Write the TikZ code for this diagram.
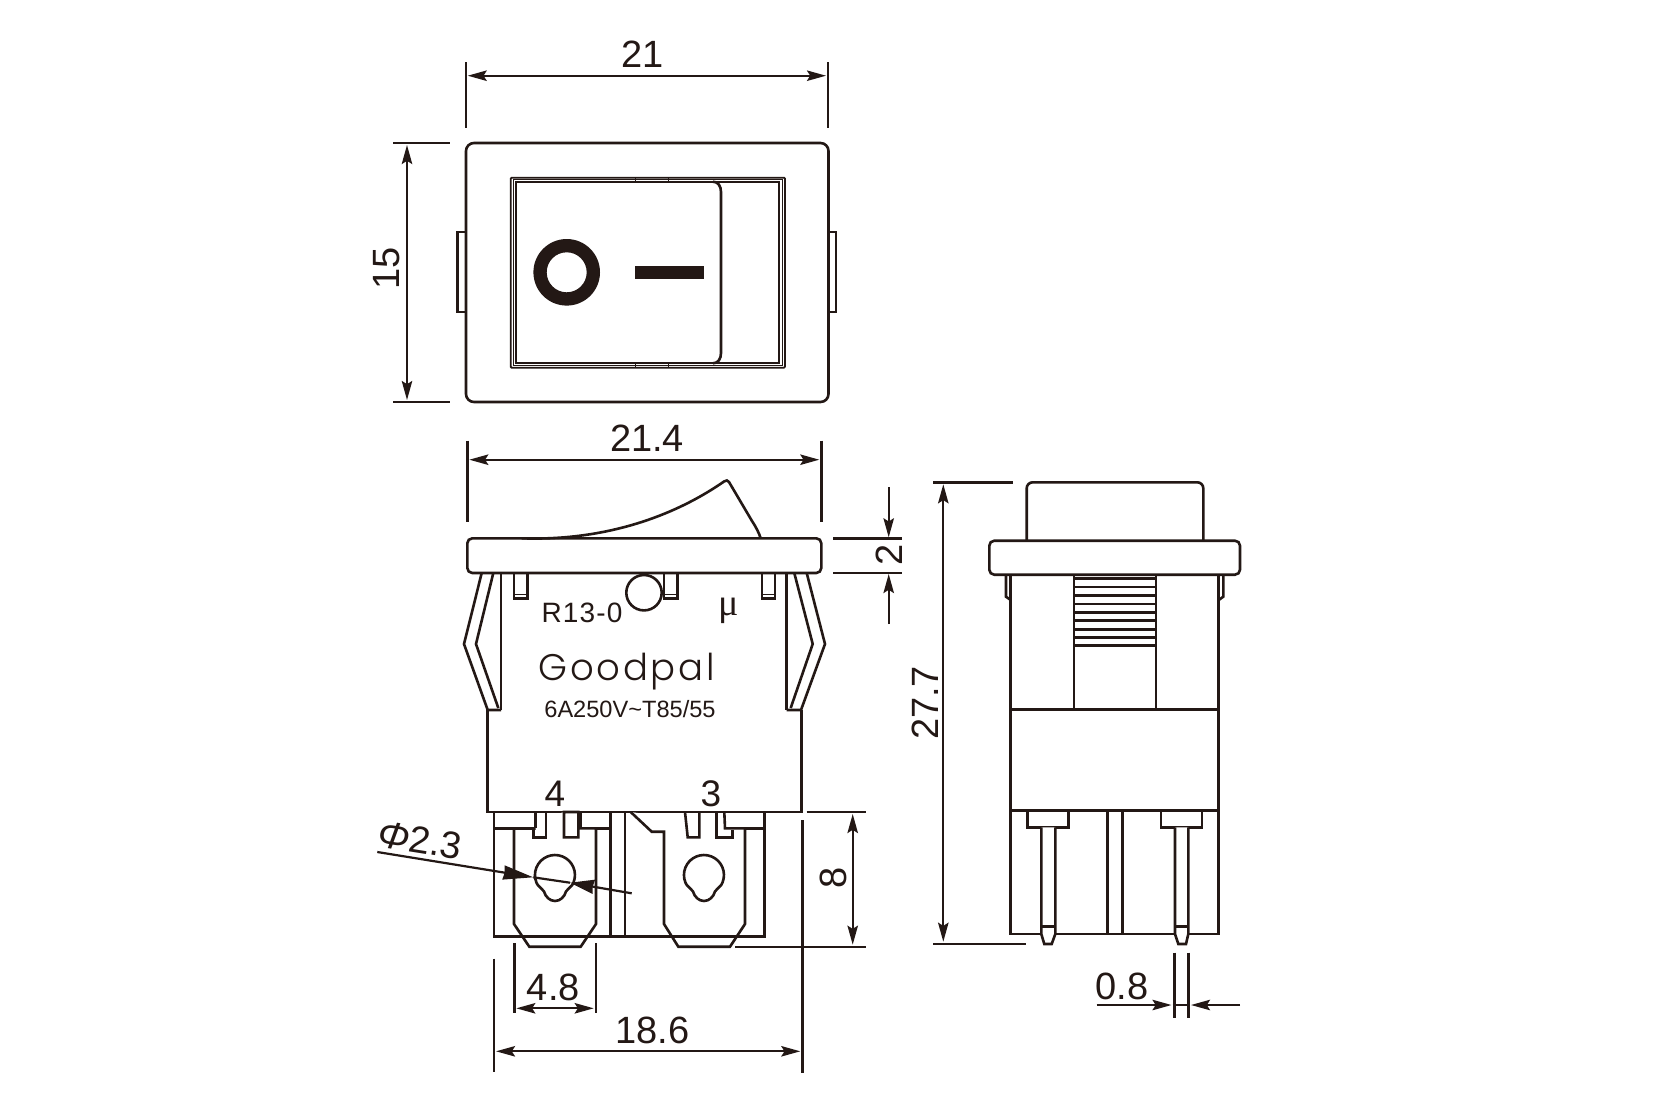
\documentclass[tikz,border=0pt]{standalone}
\usepackage{fontspec}
\setmainfont{Liberation Sans}
\newfontfamily\serfont{Liberation Serif}
\newfontfamily\gpfont[LetterSpace=7.5]{Poppins Light}
\newfontfamily\spfont[LetterSpace=4]{Liberation Sans}
\usetikzlibrary{arrows.meta}
\definecolor{ink}{HTML}{231815}
\tikzset{
  part/.style={draw=ink,line width=1.3pt,line join=miter},
  whitepart/.style={part,fill=white},
  thinpart/.style={draw=ink,line width=0.9pt},
  hairpart/.style={draw=ink,line width=0.35pt},
  ext/.style={draw=ink,line width=1.2pt},
  dimtip/.tip={Stealth[length=9.5pt,width=5.2pt,inset=1.6pt]},
  dimarr/.style={draw=ink,line width=1.1pt,{dimtip}-{dimtip},shorten <=1pt,shorten >=1pt},
  onearr/.style={draw=ink,line width=1.1pt,-{dimtip},shorten >=0.5pt},
  bigtip/.tip={Stealth[length=15pt,width=7pt,inset=0.5pt]},
  midtip/.tip={Stealth[length=12pt,width=7pt,inset=0.5pt]},
  lbl/.style={text=ink,font=\fontsize{19}{19}\selectfont,inner sep=0pt},
  small/.style={text=ink,inner sep=0pt}
}
\newcommand{\keyhole}[2]{%
  \begin{scope}[shift={(#1,#2)}]
  \draw[part] (18.5,7.5) arc[start angle=22,end angle=-202,radius=20]
    .. controls (-17.5,11) and (-14,12.5) .. (-11,16.5)
    .. controls (-9.5,22) and (-5,26) .. (0,26)
    .. controls (5,26) and (9.5,22) .. (11,16.5)
    .. controls (14,12.5) and (17.5,11) .. cycle;
  \end{scope}
}
\begin{document}
\begin{tikzpicture}[x=0.5pt,y=-0.5pt]
\useasboundingbox[fill=white] (0,0) rectangle (1677,1098);

% ---------- top view
\draw[part,rounded corners=4pt] (466,143) rectangle (828.5,402);
\draw[part] (466,232) -- (457.5,232) -- (457.5,312) -- (466,312);
\draw[part] (828.5,232) -- (836,232) -- (836,312) -- (828.5,312);
\draw[thinpart,rounded corners=0.5pt] (510.7,177.7) rectangle (785,367.7);
\draw[hairpart] (513.3,179.7) rectangle (782,365.7);
\draw[thinpart] (515.7,181.7) rectangle (779.3,363.3);
\foreach \xt in {635,668}{
  \draw[hairpart] (\xt,177.7) -- (\xt,181.7);
  \draw[hairpart] (\xt,363.3) -- (\xt,367.7);
}
\draw[part] (713,181.7) .. controls (718,181.7) and (721,186) .. (721,192) -- (721,353) .. controls (721,359) and (718,363.3) .. (713,363.3);
\fill[ink,even odd rule] (566.7,272.3) circle[radius=33.3] (566.7,272.3) circle[radius=20];
\fill[ink] (635,265.7) rectangle (704,279.3);

\coordinate (a1) at (465.7,75.7); \coordinate (a2) at (828,75.7);
\draw[ext] (465.7,62) -- (465.7,128); \draw[ext] (828,62) -- (828,128);
\draw[dimarr] (a1) -- (a2);
\node[lbl] (t21) at (643,54) {21};
\coordinate (b1) at (407,143); \coordinate (b2) at (407,402);
\draw[ext] (393,143) -- (450,143); \draw[ext] (393,402) -- (450,402);
\draw[dimarr] (b1) -- (b2);
\node[lbl,rotate=90] (t15) at (387,268) {15};

% ---------- side view
\draw[part] (521.7,538.3) .. controls (600,541) and (670,519) .. (724,481.5) .. controls (726,480) and (728,480) .. (729,482) -- (752,521) .. controls (756,527) and (759,533) .. (760.7,538.3);
\draw[part] (501,573) -- (501,710);
\draw[part] (786.7,573) -- (786.7,710);
\draw[part] (487.5,710) -- (487.5,812) -- (801.3,812) -- (801.3,710);
% clips
\draw[part] (481.7,573) -- (464,644) -- (487.7,710) -- (501,710);
\draw[part] (493.3,573) -- (476,644) -- (498.3,708);
\draw[part] (806.7,573) -- (825,644) -- (801,710) -- (786.7,710);
\draw[part] (794.3,573) -- (812.7,644) -- (790.7,708);
% little tabs
\foreach \xa/\xb in {514/527.3,664/677.3,762/775}{
  \draw[part] (\xa,573) -- (\xa,598.3) -- (\xb,598.3) -- (\xb,573);
  \draw[thinpart] (\xa,594.5) -- (\xb,594.5);
}
\draw[whitepart] (644,592.7) circle[radius=17.7];
\draw[part,rounded corners=2.5pt] (467.3,573) -- (467.3,538.3) -- (821.3,538.3) -- (821.3,573) -- cycle;

\coordinate (c1) at (467.3,459.7); \coordinate (c2) at (821.3,459.7);
\draw[ext] (467.3,440.7) -- (467.3,522); \draw[ext] (821.3,440.7) -- (821.3,522);
\draw[dimarr] (c1) -- (c2);
\node[lbl] (t214) at (647,438) {21.4};
\draw[ext] (833,538.3) -- (902,538.3); \draw[ext] (833,573) -- (902,573);
\coordinate (d0) at (888.7,487.3); \coordinate (d1) at (888.7,538.3);
\coordinate (d2) at (888.7,624); \coordinate (d3) at (888.7,573);
\draw[onearr] (d0) -- (d1); \draw[onearr] (d2) -- (d3);
\node[lbl,rotate=90] (t2) at (889,555) {2};

\node[small,font=\spfont\fontsize{14}{14}\selectfont] (model) at (582,612.5) {R13-0};
\node[small,font=\serfont\fontsize{19}{19}\selectfont] (mu) at (728.7,611) {μ};
\node[small,font=\gpfont\fontsize{18.5}{18.5}\selectfont,anchor=base] (brand) at (626.7,680) {Goodpal};
\node[small,font=\fontsize{11.8}{12}\selectfont] (rating) at (630,709.3) {6A250V\textasciitilde T85/55};
\node[small,font=\fontsize{18.5}{18.5}\selectfont] (n4) at (554.8,793.3) {4};
\node[small,font=\fontsize{18.5}{18.5}\selectfont] (n3) at (711,793.3) {3};

% ---------- terminals
\draw[part] (494,812) -- (494,936.7) -- (764.7,936.7) -- (764.7,812);
\draw[part] (610.7,812) -- (610.7,936.7);
\draw[part] (625,812) -- (625,936.7);
\draw[part] (494,828.3) -- (535.7,828.3) -- (535.7,812);
\draw[part] (580.7,812) -- (580.7,828.3) -- (610.7,828.3);
\draw[whitepart] (514,828.3) -- (514,924) -- (529.3,946.7) -- (580.7,946.7) -- (596,924) -- (596,828.3) -- (580,828.3) -- (578.3,828.3) -- (578.3,837.3) -- (564,837.3) -- (564,812) -- (578.3,812) -- (578.3,837.3) -- (564,837.3) -- (564,812);
\draw[part] (514,828.3) -- (535.7,828.3) -- (533.3,828.3) -- (533.3,837.3) -- (546,837.3) -- (546,812);
\draw[part] (535.7,812) -- (535.7,828.3);
\draw[part] (514,936.7) -- (596,936.7);
\draw[whitepart] (630.7,812) -- (651.7,831.7) -- (664,831.7) -- (664,924) -- (678.3,946.7) -- (730,946.7) -- (745,924) -- (745,828.3);
\draw[part] (664,936.7) -- (745,936.7);
\draw[part] (745,828.3) -- (764.7,828.3);
\draw[part] (745,828.3) -- (725,828.3) -- (724.3,812);
\draw[part] (685,812) -- (687.7,837.3) -- (699.3,837.3) -- (699.3,812);
\draw[part] (716.7,812) -- (716.7,837.3) -- (732.3,837.3) -- (732.3,830);
\keyhole{555}{875}
\keyhole{704}{875}
\draw[ext] (494,958.7) -- (494,1071.7);
\draw[ext] (802.3,820) -- (802.3,1073.3);
\draw[ext] (514.3,943) -- (514.3,1013.3);
\draw[ext] (595.7,943) -- (595.7,1013.3);
\coordinate (e1) at (514.3,1008.3); \coordinate (e2) at (595.7,1008.3);
\draw[dimarr] (e1) -- (e2);
\node[lbl] (t48) at (553.3,987.7) {4.8};
\coordinate (f1) at (494,1051.3); \coordinate (f2) at (802.3,1051.3);
\draw[dimarr] (f1) -- (f2);
\node[lbl] (t186) at (652.7,1030) {18.6};
\draw[ext] (806.7,812) -- (866,812);
\draw[ext] (735,946.7) -- (866,946.7);
\coordinate (g1) at (852.7,812); \coordinate (g2) at (852.7,946.7);
\draw[dimarr] (g1) -- (g2);
\node[lbl,rotate=90] (t8) at (833.8,877.7) {8};
% leader
\coordinate (h0) at (377.3,852); \coordinate (h1) at (533.3,877.3);
\coordinate (h2) at (631.7,893.3); \coordinate (h3) at (570,882.7);
\draw[ink,line width=1.1pt] (h1) -- (h3);
\draw[draw=ink,line width=1.1pt,-{bigtip}] (h0) -- (h1);
\draw[draw=ink,line width=1.1pt,-{midtip}] (h2) -- (h3);
\node[lbl,rotate=-9] (tphi) at (420,840) {{\itshape Φ}2.3};

% ---------- end view
\draw[part,rounded corners=3pt] (1026.7,540.7) -- (1026.7,482.3) -- (1203.3,482.3) -- (1203.3,540.7);
\draw[part] (1006,574.7) -- (1006,596.7) -- (1010.7,600);
\draw[part] (1223.3,574.7) -- (1223.3,596.7) -- (1218.7,600);
\draw[part] (1010.7,574.7) -- (1010.7,934) -- (1218.7,934) -- (1218.7,574.7);
\draw[part,rounded corners=2.5pt] (989.3,574.7) -- (989.3,540.7) -- (1240,540.7) -- (1240,574.7) -- cycle;
\draw[part] (1074,574.7) -- (1074,709.3);
\draw[part] (1156,574.7) -- (1156,709.3);
\draw[part] (1010.7,709.3) -- (1218.7,709.3);
\draw[part] (1010.7,810.7) -- (1218.7,810.7);
\foreach \yy in {578.7,587,595.7,604,612.3,620.7,629.3,637.7,645.7}{
  \draw[part] (1074,\yy) -- (1156,\yy);
}
\draw[part] (1107.3,810.7) -- (1107.3,934);
\draw[part] (1122.3,810.7) -- (1122.3,934);
\foreach \ha/\hb/\pa/\pb/\ta/\tb in {1027.7/1068.7/1041.3/1055.3/1044.3/1051.7, 1161/1202/1175/1188.3/1178.3/1186}{
  \draw[part] (\ha,810.7) -- (\ha,827.3) -- (\hb,827.3) -- (\hb,810.7);
  \draw[whitepart] (\pa,827.3) -- (\pa,934) -- (\ta,944) -- (\tb,944) -- (\pb,934) -- (\pb,827.3);
  \draw[part] (\pa,926.7) -- (\pb,926.7);
}
\draw[ext] (933,482.3) -- (1012.7,482.3);
\draw[ext] (933,943.7) -- (1026,943.7);
\coordinate (k1) at (943.3,482.3); \coordinate (k2) at (943.3,943.7);
\draw[dimarr] (k1) -- (k2);
\node[lbl,rotate=90] (t277) at (925.5,703) {27.7};
\draw[ext] (1174.3,952.7) -- (1174.3,1018.3);
\draw[ext] (1188.3,952.7) -- (1188.3,1018.3);
\coordinate (m0) at (1096.7,1005); \coordinate (m1) at (1172.5,1005);
\coordinate (m2) at (1240,1005); \coordinate (m3) at (1190,1005);
\draw[onearr] (m0) -- (m1); \draw[onearr] (m2) -- (m3);
\draw[ink,line width=1.1pt] (m1) -- (m3);
\node[lbl] (t08) at (1122,986) {0.8};
\end{tikzpicture}
\end{document}
